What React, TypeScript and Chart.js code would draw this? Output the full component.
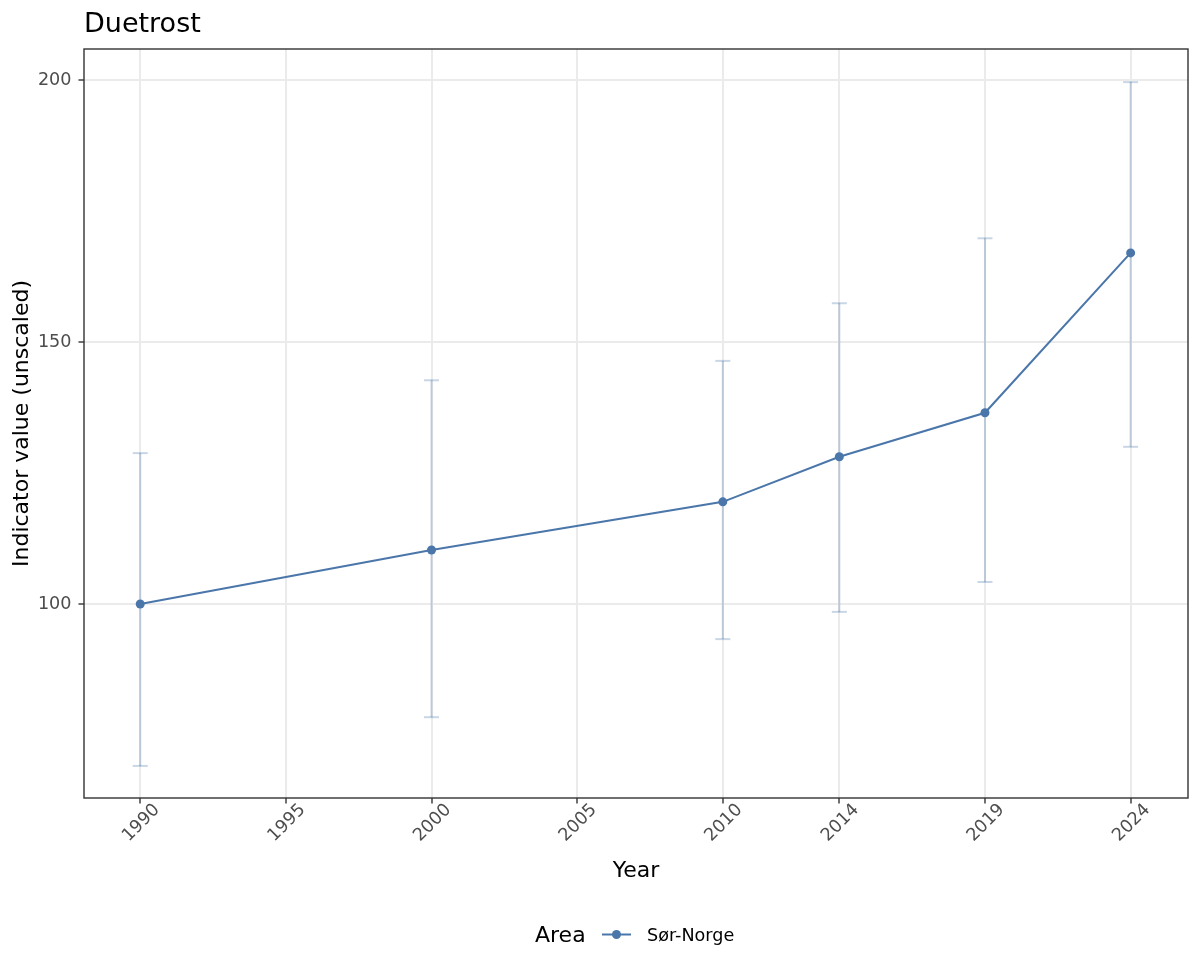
import React, { useEffect, useRef } from "react";
import { Chart, registerables } from "chart.js";

Chart.register(...registerables);

const years = [1990, 2000, 2010, 2014, 2019, 2024];
const values = [100, 110.3, 119.5, 128.1, 136.5, 167.0];
const lower = [69.1, 78.4, 93.3, 98.5, 104.2, 130.0];
const upper = [128.8, 142.7, 146.4, 157.4, 169.8, 199.6];
const xTicks = [1990, 1995, 2000, 2005, 2010, 2014, 2019, 2024];
const yTicks = [100, 150, 200];

const TITLE = "Duetrost";
const X_TITLE = "Year";
const Y_TITLE = "Indicator value (unscaled)";
const LEGEND_TITLE = "Area";
const SERIES = "Sør-Norge";

const LINE_COLOR = "#4A76AA";
const ERR_COLOR = "rgba(74,118,170,0.3)";
const FONT = "DejaVu Sans";

const decorPlugin = {
  id: "decor",
  afterDraw(chart: any) {
    const { ctx, chartArea: a, scales } = chart;
    ctx.save();
    // panel border
    ctx.strokeStyle = "#333333";
    ctx.lineWidth = 1.4;
    ctx.strokeRect(a.left, a.top, a.right - a.left, a.bottom - a.top);

    // x tick labels (rotated 45)
    ctx.fillStyle = "#4D4D4D";
    ctx.font = `17.6px "${FONT}"`;
    ctx.textAlign = "center";
    ctx.textBaseline = "middle";
    xTicks.forEach((t) => {
      const px = scales.x.getPixelForValue(t);
      ctx.save();
      ctx.translate(px + 1, a.bottom + 25);
      ctx.rotate(-Math.PI / 4);
      ctx.fillText(String(t), 0, 0);
      ctx.restore();
    });

    // title
    ctx.fillStyle = "#000000";
    ctx.textAlign = "left";
    ctx.textBaseline = "alphabetic";
    ctx.font = `27px "${FONT}"`;
    ctx.fillText(TITLE, a.left, 31.5);

    // axis titles
    ctx.font = `22px "${FONT}"`;
    ctx.textAlign = "center";
    ctx.fillText(X_TITLE, (a.left + a.right) / 2, 877);
    ctx.save();
    ctx.translate(28, (a.top + a.bottom) / 2);
    ctx.rotate(-Math.PI / 2);
    ctx.fillText(Y_TITLE, 0, 0);
    ctx.restore();

    // legend
    ctx.textAlign = "left";
    ctx.font = `22px "${FONT}"`;
    ctx.fillText(LEGEND_TITLE, 535, 942);
    ctx.strokeStyle = LINE_COLOR;
    ctx.lineWidth = 2;
    ctx.beginPath();
    ctx.moveTo(602, 934.5);
    ctx.lineTo(631, 934.5);
    ctx.stroke();
    ctx.fillStyle = LINE_COLOR;
    ctx.beginPath();
    ctx.arc(616.5, 934.5, 4.5, 0, Math.PI * 2);
    ctx.fill();
    ctx.fillStyle = "#000000";
    ctx.font = `17.6px "${FONT}"`;
    ctx.fillText(SERIES, 647, 941);
    ctx.restore();
  },
};

export default function App() {
  const ref = useRef<HTMLCanvasElement>(null);

  useEffect(() => {
    document.body.style.margin = "0";
    const errData: any[] = [];
    years.forEach((yr, i) => {
      errData.push({ x: yr, y: lower[i] });
      errData.push({ x: yr, y: upper[i] });
      errData.push({ x: yr, y: null });
    });

    const chart = new Chart(ref.current as HTMLCanvasElement, {
      type: "line",
      data: {
        datasets: [
          {
            label: SERIES,
            data: years.map((yr, i) => ({ x: yr, y: values[i] })),
            borderColor: LINE_COLOR,
            backgroundColor: LINE_COLOR,
            borderWidth: 2,
            pointRadius: 4.5,
            pointBorderWidth: 0,
            pointBackgroundColor: LINE_COLOR,
            tension: 0,
            order: 0,
          },
          {
            label: "err",
            data: errData,
            borderColor: ERR_COLOR,
            borderWidth: 2,
            pointStyle: "line",
            pointRadius: 7.5,
            pointBorderWidth: 2,
            pointBorderColor: ERR_COLOR,
            spanGaps: false,
            tension: 0,
            order: 1,
          },
        ],
      },
      options: {
        responsive: false,
        animation: false,
        devicePixelRatio: 1,
        layout: { padding: { top: 49, right: 12, left: 0, bottom: 0 } },
        plugins: {
          legend: { display: false },
          title: { display: false },
          tooltip: { enabled: false },
        },
        scales: {
          x: {
            type: "linear",
            min: 1988.07,
            max: 2025.97,
            afterBuildTicks: (scale: any) => {
              scale.ticks = xTicks.map((v) => ({ value: v }));
            },
            afterFit: (scale: any) => {
              scale.height = 975 - 798;
            },
            ticks: { display: false },
            grid: {
              color: "#EBEBEB",
              lineWidth: 2,
              drawTicks: true,
              tickLength: 5.5,
              tickColor: "#333333",
              tickWidth: 1.4,
            },
            border: { display: false },
          },
          y: {
            type: "linear",
            min: 62.98,
            max: 205.92,
            afterBuildTicks: (scale: any) => {
              scale.ticks = yTicks.map((v) => ({ value: v }));
            },
            afterFit: (scale: any) => {
              scale.width = 84;
            },
            ticks: {
              color: "#4D4D4D",
              font: { family: FONT, size: 17.6 },
              padding: 7,
            },
            grid: {
              color: "#EBEBEB",
              lineWidth: 2,
              drawTicks: true,
              tickLength: 5.5,
              tickColor: "#333333",
              tickWidth: 1.4,
            },
            border: { display: false },
          },
        },
      },
      plugins: [decorPlugin],
    } as any);

    return () => chart.destroy();
  }, []);

  return (
    <div style={{ position: "absolute", left: 0, top: 0, width: 1200, height: 975, background: "#fff" }}>
      <canvas ref={ref} width={1200} height={975} />
    </div>
  );
}
